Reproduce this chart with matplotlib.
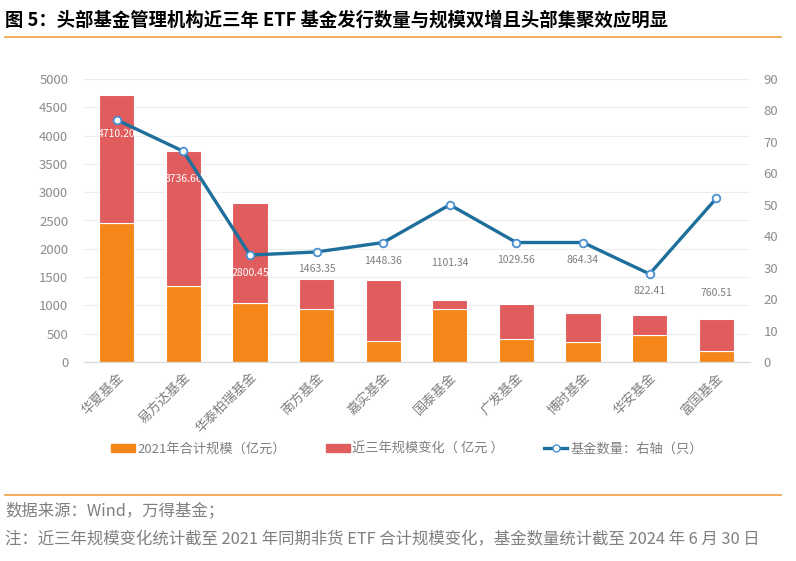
import numpy as np
import matplotlib
matplotlib.use('Agg')
import matplotlib.pyplot as plt
from matplotlib.lines import Line2D

plt.rcParams['font.family'] = ['Noto Sans CJK SC', 'DejaVu Sans']
plt.rcParams['axes.unicode_minus'] = False

companies = ['华夏基金', '易方达基金', '华泰柏瑞基金', '南方基金', '嘉实基金',
             '国泰基金', '广发基金', '博时基金', '华安基金', '富国基金']
scale_2021 = [2450, 1335, 1035, 945, 365, 945, 405, 350, 470, 190]
scale_total = [4710.20, 3736.66, 2800.45, 1463.35, 1448.36, 1101.34, 1029.56, 864.34, 822.41, 760.51]
total_labels = ['4710.20', '3736.66', '2800.45', '1463.35', '1448.36',
                '1101.34', '1029.56', '864.34', '822.41', '760.51']
fund_count = [77, 67, 34, 35, 38, 50, 38, 38, 28, 52]

change_3y = [t - b for t, b in zip(scale_total, scale_2021)]

# label placement (left-axis units) and colour
label_y = [4030, 3235, 1570, 1640, 1785, 1750, 1800, 1800, 1255, 1220]
label_c = ['white'] * 3 + ['#7f7f7f'] * 7

ORANGE = '#F5861A'
RED = '#E05C5D'
BLUE = '#1F6F9C'
GRAY = '#8c8c8c'

fig = plt.figure(figsize=(7.96, 5.61), dpi=100)
ax = fig.add_axes([83.5 / 796, 1 - 362 / 561, (749.5 - 83.5) / 796, 283 / 561])
ax2 = ax.twinx()

x = np.arange(len(companies))
w = 0.53
ax.bar(x, scale_2021, w, color=ORANGE, edgecolor='white', linewidth=0.8, zorder=2)
ax.bar(x, change_3y, w, bottom=scale_2021, color=RED, edgecolor='white', linewidth=0.8, zorder=2)
for i in range(len(x)):
    ax.text(x[i], label_y[i], total_labels[i], ha='center', va='center',
            fontsize=7.5, color=label_c[i], zorder=5)

ax2.plot(x, fund_count, color=BLUE, lw=2.4, marker='o', ms=5.5,
         markerfacecolor='white', markeredgecolor='#4a8fd0', markeredgewidth=1.3, zorder=4)

ax.set_xlim(-0.5, len(x) - 0.5)
ax.set_ylim(0, 5000)
ax2.set_ylim(0, 90)
ax.set_yticks(np.arange(0, 5001, 500))
ax2.set_yticks(np.arange(0, 91, 10))
ax.grid(axis='y', color='#ededed', lw=0.8, zorder=0)
ax.set_axisbelow(True)
for a in (ax, ax2):
    for s in ['top', 'left', 'right']:
        a.spines[s].set_visible(False)
    a.spines['bottom'].set_color('#d9d9d9')
    a.tick_params(length=0, labelsize=9.5, labelcolor=GRAY)
ax.tick_params(axis='y', pad=11)
ax2.tick_params(axis='y', pad=10)
ax.set_xticks(x)
ax.set_xticklabels(companies, rotation=45, ha='right', rotation_mode='anchor',
                   fontsize=9.5, color='#7f7f7f')
ax.tick_params(axis='x', pad=6)

handles = [
    plt.Rectangle((0, 0), 1, 1, color=ORANGE),
    plt.Rectangle((0, 0), 1, 1, color=RED),
    Line2D([0], [0], color=BLUE, lw=2.4, marker='o', ms=5, markerfacecolor='white',
           markeredgecolor='#4a8fd0'),
]
fig.legend(handles, ['2021年合计规模（亿元）', '近三年规模变化（ 亿元 ）', '基金数量：右轴（只）'],
           loc='center', bbox_to_anchor=(407 / 796, 1 - 449 / 561), ncol=3, frameon=False,
           fontsize=9.5, labelcolor='#7f7f7f', handlelength=1.8, handleheight=0.6,
           handletextpad=0.2, columnspacing=3.0)

fig.text(5 / 796, 1 - 20 / 561,
         '图 5：头部基金管理机构近三年 ETF 基金发行数量与规模双增且头部集聚效应明显',
         fontsize=13.2, fontweight='bold', color='black', va='center', ha='left')
fig.add_artist(Line2D([5 / 796, 781 / 796], [1 - 37 / 561] * 2, color='#F0A040', lw=1.2))
fig.add_artist(Line2D([5 / 796, 781 / 796], [1 - 495 / 561] * 2, color='#F0A040', lw=1.2))
fig.text(5 / 796, 1 - 511 / 561, '数据来源：Wind，万得基金；', fontsize=11.8, color='#7f7f7f',
         va='center', ha='left')
fig.text(5 / 796, 1 - 539 / 561,
         '注：近三年规模变化统计截至 2021 年同期非货 ETF 合计规模变化，基金数量统计截至 2024 年 6 月 30 日',
         fontsize=11.8, color='#7f7f7f', va='center', ha='left')

fig.savefig('out.png', dpi=100)
